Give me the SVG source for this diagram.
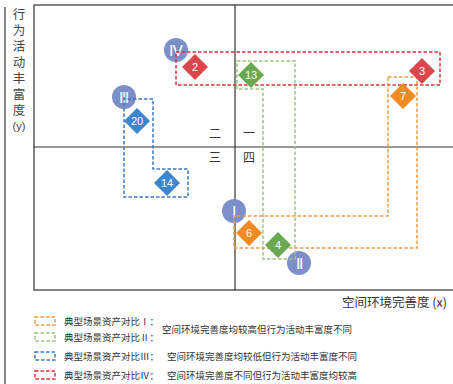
<svg xmlns="http://www.w3.org/2000/svg" width="453" height="384" viewBox="0 0 453 384">
<style>
.frame{fill:none;stroke:#333;stroke-width:1.2}
.axis{stroke:#333;stroke-width:1.2;fill:none}
.lbl{font-family:"Noto Sans CJK SC","Liberation Sans",sans-serif;fill:#333}
.ylbl{font-family:"Noto Sans CJK SC",sans-serif;font-size:12.5px;fill:#444;writing-mode:vertical-rl;text-orientation:upright;letter-spacing:3.5px}
.q{font-family:"Noto Sans CJK SC",sans-serif;font-size:12px;fill:#333;text-anchor:middle}
.circ{fill:#7d8fc8}
.rn{font-family:"Liberation Serif",serif;font-size:15px;fill:#fff;text-anchor:middle}
.dn{font-family:"Liberation Sans",sans-serif;font-size:11px;fill:#fff;text-anchor:middle}
.dash{fill:none;stroke-width:1.5;stroke-dasharray:3.5 2}
.red{stroke:#d8323f}.grn{stroke:#9cc57e}.blu{stroke:#3b78c2}.org{stroke:#ef9a45}
.leg{font-family:"Noto Sans CJK SC",sans-serif;font-size:9.5px;fill:#333}
</style>
<rect x="0" y="0" width="453" height="384" fill="#fff"/>
<g id="frame">
<line class="frame" x1="5" y1="7" x2="5" y2="384"/>
<rect class="axis" x="34" y="5" width="425" height="285"/>
<line class="axis" x1="235" y1="5" x2="235" y2="290"/>
<line class="axis" x1="34" y1="147" x2="453" y2="147"/>
</g>
<g id="y-label">
<text class="ylbl" x="19" y="8">行为活动丰富度</text>
<text x="19" y="130" font-family="Liberation Sans, sans-serif" font-size="11" fill="#444" text-anchor="middle">(y)</text>
</g>
<g id="x-label"><text class="lbl" x="447" y="307" font-size="12.5" text-anchor="end">空间环境完善度 (x)</text></g>
<g id="quadrants">
<text class="q" x="215" y="138">二</text>
<text class="q" x="249" y="138">一</text>
<text class="q" x="215" y="162">三</text>
<text class="q" x="249" y="162">四</text>
</g>
<g id="node-IV"><circle class="circ" cx="176" cy="50" r="12"/><text class="rn" x="176" y="55.5">Ⅳ</text></g>
<g id="node-III"><circle class="circ" cx="124" cy="97" r="12"/><text class="rn" x="124" y="102.5">Ⅲ</text></g>
<g id="node-I"><circle class="circ" cx="234" cy="211" r="12"/><text class="rn" x="234" y="216.5">Ⅰ</text></g>
<g id="node-II"><circle class="circ" cx="299" cy="263" r="12"/><text class="rn" x="299" y="268.5">Ⅱ</text></g>
<g id="connectors">
<rect class="dash red" x="176" y="52" width="264" height="33"/>
<path class="dash blu" d="M124,97 V197 H188 V169 H153 V99 H124"/>
<path class="dash grn" d="M237,61 H295 V259 H263 V89 H237 Z"/>
<path class="dash org" d="M388,77 H417 V248 H234 V216 H388 Z"/>
</g>
<g id="node-2"><path d="M195,54 L208,67 L195,80 L182,67 Z" fill="#d9484d"/><text class="dn" x="195" y="71">2</text></g>
<g id="node-3"><path d="M422,58 L435,71 L422,84 L409,71 Z" fill="#d9484d"/><text class="dn" x="422" y="75">3</text></g>
<g id="node-20"><path d="M137,108 L150,121 L137,134 L124,121 Z" fill="#3c86d1"/><text class="dn" x="137" y="125">20</text></g>
<g id="node-14"><path d="M167,170 L180,183 L167,196 L154,183 Z" fill="#3c86d1"/><text class="dn" x="167" y="187">14</text></g>
<g id="node-13"><path d="M251,62 L264,75 L251,88 L238,75 Z" fill="#6aa84f"/><text class="dn" x="251" y="79">13</text></g>
<g id="node-4"><path d="M278,232 L291,245 L278,258 L265,245 Z" fill="#6aa84f"/><text class="dn" x="278" y="249">4</text></g>
<g id="node-7"><path d="M403,83 L416,96 L403,109 L390,96 Z" fill="#f08a24"/><text class="dn" x="403" y="100">7</text></g>
<g id="node-6"><path d="M249,220 L262,233 L249,246 L236,233 Z" fill="#f08a24"/><text class="dn" x="249" y="237">6</text></g>
<g id="legend">
<rect class="dash org" x="35" y="317" width="20" height="8" stroke-width="1.3"/>
<rect class="dash grn" x="35" y="333" width="20" height="8" stroke-width="1.3"/>
<rect class="dash blu" x="35" y="352" width="20" height="8" stroke-width="1.3"/>
<rect class="dash red" x="35" y="371" width="20" height="8" stroke-width="1.3"/>
<text class="leg" x="64" y="324.5">典型场景资产对比Ⅰ：</text>
<text class="leg" x="64" y="340.5">典型场景资产对比Ⅱ：</text>
<text class="leg" x="162" y="332.5">空间环境完善度均较高但行为活动丰富度不同</text>
<text class="leg" x="64" y="359.5">典型场景资产对比Ⅲ：</text>
<text class="leg" x="167" y="359.5">空间环境完善度均较低但行为活动丰富度不同</text>
<text class="leg" x="64" y="378.5">典型场景资产对比Ⅳ：</text>
<text class="leg" x="167" y="378.5">空间环境完善度不同但行为活动丰富度均较高</text>
</g>
</svg>
